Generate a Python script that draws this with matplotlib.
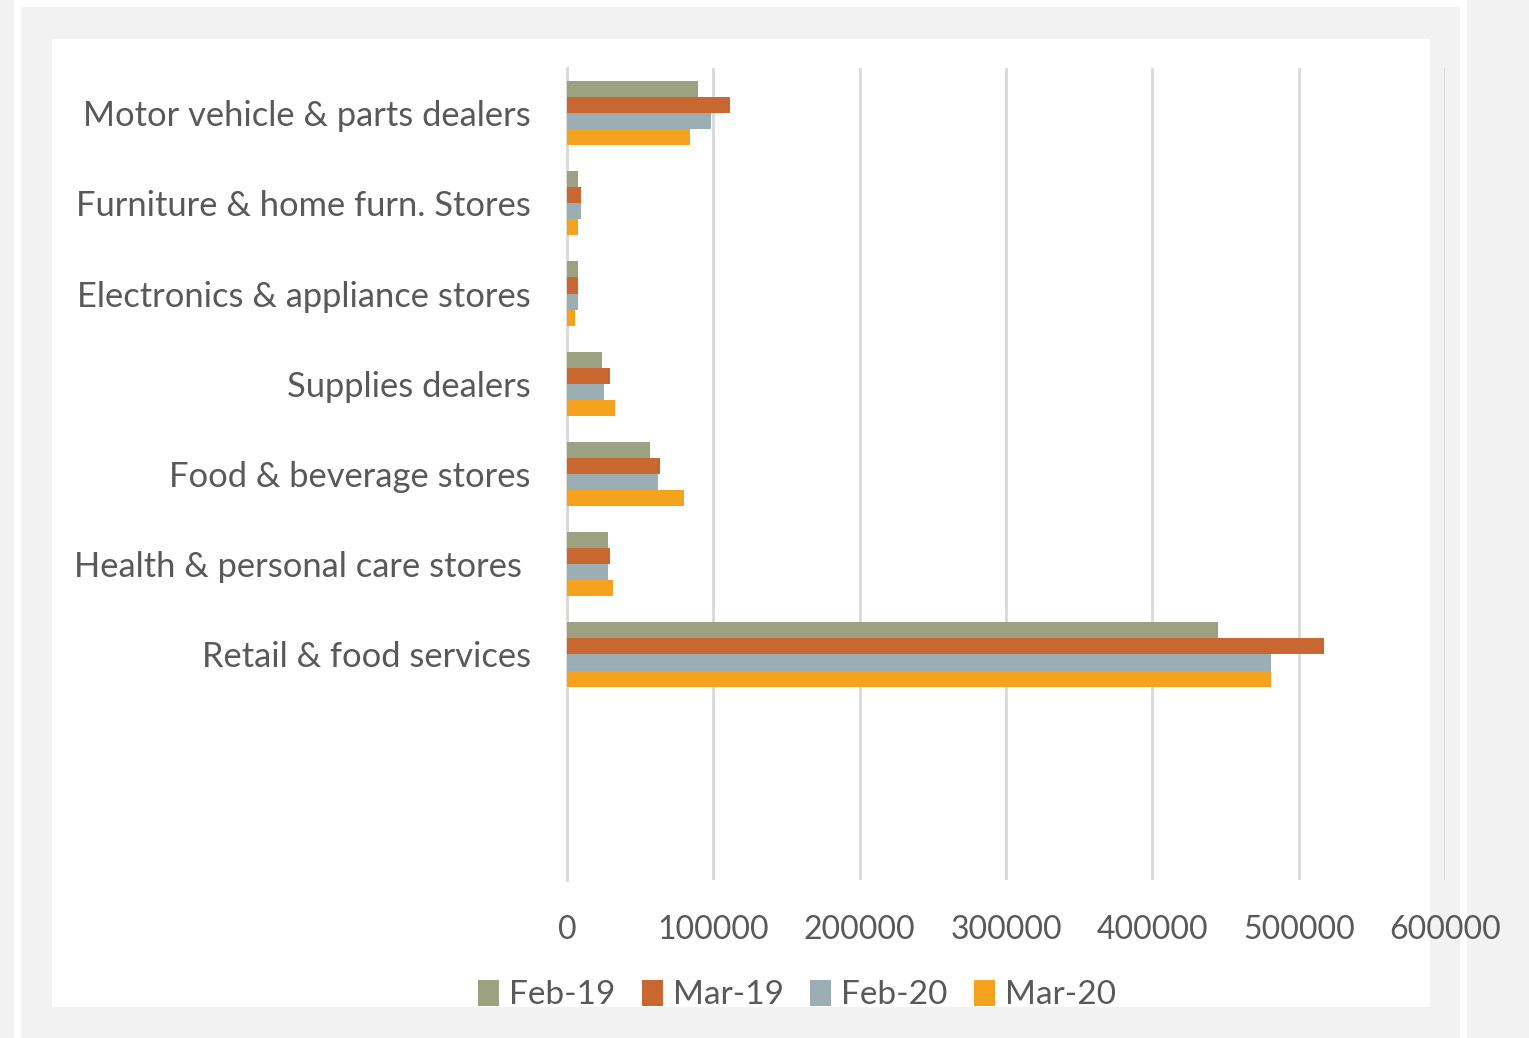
import matplotlib.pyplot as plt
import numpy as np
from matplotlib.patches import Rectangle

categories = [
    "Motor vehicle & parts dealers",
    "Furniture & home furn. Stores",
    "Electronics & appliance stores",
    "Supplies dealers",
    "Food & beverage stores",
    "Health & personal care stores ",
    "Retail & food services",
    "",
    "",
]
series = ["Feb-19", "Mar-19", "Feb-20", "Mar-20"]
feb19 = [89500, 7500, 7500, 23900, 56700, 27800, 445000, 0, 0]
mar19 = [111400, 9300, 7500, 29400, 63800, 29400, 517600, 0, 0]
feb20 = [98400, 9300, 7500, 25500, 62200, 27800, 481400, 0, 0]
mar20 = [84100, 7500, 5700, 33000, 80200, 31200, 481400, 0, 0]
colors = ["#9ca17f", "#c8672f", "#9baeb3", "#f5a31f"]

W, H = 1529, 1038
plt.rcParams["font.family"] = ["Lato", "DejaVu Sans"]
text_color = "#595959"

fig = plt.figure(figsize=(W / 100, H / 100), dpi=100)
fig.patch.set_facecolor("#f2f2f2")

# white frame lines and white chart area
frame = [
    (14, 0, 7, H),
    (1460, 0, 7, H),
    (14, 0, 1453, 7),
    (52, 39, 1430 - 52, 1007 - 39),
]
for x0, y0, w, hh in frame:
    fig.patches.append(Rectangle((x0 / W, 1 - (y0 + hh) / H), w / W, hh / H,
                                 transform=fig.transFigure, facecolor="white",
                                 edgecolor="none", zorder=-5))

ax = fig.add_axes([567 / W, 1 - 880 / H, (1445 - 567) / W, (880 - 68) / H])
ax.set_facecolor("none")
ax.set_zorder(5)

y = np.arange(len(categories))
h = 0.178
data = [feb19, mar19, feb20, mar20]
for i, (name, vals, c) in enumerate(zip(series, data, colors)):
    ax.barh(y + (i - 1.5) * h, vals, height=h, color=c, label=name, zorder=3)

ax.set_ylim(len(categories) - 0.5, -0.5)
ax.set_xlim(0, 600000)
ax.set_xticks(np.arange(0, 600001, 100000))
ax.set_yticks(y)
ax.set_yticklabels(categories)
ax.tick_params(axis="y", length=0, pad=26, labelsize=24.8, labelcolor=text_color)
ax.tick_params(axis="x", length=0, pad=25, labelsize=23, labelcolor=text_color)
ax.grid(axis="x", color="#d9d9d9", linewidth=2, zorder=0)
for s in ["top", "right", "bottom"]:
    ax.spines[s].set_visible(False)
ax.spines["left"].set_color("#d9d9d9")
ax.spines["left"].set_linewidth(2)

ax.legend(loc="center", bbox_to_anchor=(797 / W, 1 - 995 / H), bbox_transform=fig.transFigure,
          ncol=4, frameon=False, fontsize=24, labelcolor=text_color,
          handlelength=0.62, handleheight=0.82, handletextpad=0.3, columnspacing=0.8)

fig.savefig("out.png", dpi=100, facecolor=fig.get_facecolor())
